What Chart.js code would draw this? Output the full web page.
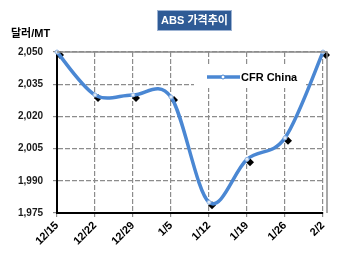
<!DOCTYPE html>
<html>
<head>
<meta charset="utf-8">
<script src="https://cdn.jsdelivr.net/npm/chart.js@4/dist/chart.umd.min.js"></script>
<style>
    html, body { margin: 0; padding: 0; background: #fff; }
    #wrap { width: 350px; height: 261px; position: relative; }
</style>
</head>
<body>
<div id="wrap"><canvas id="chart"></canvas></div>
<script>
// Chart data
const labels = ['12/15', '12/22', '12/29', '1/5', '1/12', '1/19', '1/26', '2/2'];
const cfrChina = [2050, 2030, 2030, 2029, 1980, 2000, 2010, 2050];
const yMin = 1975;
const yMax = 2050;
const yStep = 15;

const FONT = '"Liberation Sans", "Noto Sans CJK KR", Arial, sans-serif';
const LINE_COLOR = '#4A87D3';

// Title box, unit label and in-plot legend
const decorPlugin = {
    id: 'decor',
    beforeDatasetsDraw(chart) {
        const ctx = chart.ctx;
        ctx.save();
        // legend box
        ctx.fillStyle = '#fff';
        ctx.fillRect(194, 66, 112, 22);
        ctx.strokeStyle = LINE_COLOR;
        ctx.lineWidth = 3.5;
        ctx.beginPath();
        ctx.moveTo(207, 77);
        ctx.lineTo(240, 77);
        ctx.stroke();
        ctx.fillStyle = '#fff';
        ctx.lineWidth = 1;
        ctx.beginPath();
        ctx.arc(223, 77, 2, 0, Math.PI * 2);
        ctx.fill();
        ctx.stroke();
        ctx.fillStyle = '#000';
        ctx.font = 'bold 11px ' + FONT;
        ctx.textBaseline = 'middle';
        ctx.fillText('CFR China', 241, 77.5);
        ctx.restore();
    },
    afterDraw(chart) {
        const ctx = chart.ctx;
        ctx.save();
        // title box
        ctx.fillStyle = '#2F5B96';
        ctx.fillRect(157, 10, 75, 21);
        ctx.strokeStyle = '#9DB3D3';
        ctx.lineWidth = 1;
        ctx.strokeRect(157.5, 10.5, 74, 20);
        ctx.fillStyle = '#fff';
        ctx.font = 'bold 11px ' + FONT;
        ctx.textAlign = 'center';
        ctx.textBaseline = 'middle';
        ctx.fillText('ABS 가격추이', 194.5, 21);
        // unit
        ctx.fillStyle = '#000';
        ctx.textAlign = 'left';
        ctx.fillText('달러/MT', 11, 34);
        // right / top border
        const a = chart.chartArea;
        ctx.strokeStyle = '#8c8c8c';
        ctx.lineWidth = 1.5;
        ctx.beginPath();
        ctx.moveTo(a.left, a.top);
        ctx.lineTo(a.right + 4, a.top);
        ctx.lineTo(a.right + 4, a.bottom);
        ctx.stroke();
        ctx.restore();
    }
};

// Excel-like smoothing: uniform Catmull-Rom control points from the scaled points
const smoothPlugin = {
    id: 'excelSmooth',
    beforeDatasetDraw(chart, args) {
        if (args.index !== 0) return;
        const line = args.meta.dataset;
        const pts = args.meta.data;
        line.updateControlPoints(chart.chartArea, 'x');
        for (let i = 0; i < pts.length; i++) {
            const p = pts[i];
            const prev = pts[Math.max(i - 1, 0)];
            const next = pts[Math.min(i + 1, pts.length - 1)];
            const dx = (next.x - prev.x) / 6;
            const dy = (next.y - prev.y) / 6;
            p.cp1x = p.x - dx;
            p.cp1y = p.y - dy;
            p.cp2x = p.x + dx;
            p.cp2y = p.y + dy;
        }
        line._path = undefined;
    }
};

// Diamond markers sit slightly offset from the line
const offsetPlugin = {
    id: 'offsetMarkers',
    beforeDatasetDraw(chart, args) {
        if (args.index === 1) {
            chart.ctx.save();
            chart.ctx.translate(3, 3);
        }
    },
    afterDatasetDraw(chart, args) {
        if (args.index === 1) {
            chart.ctx.restore();
        }
    }
};

new Chart(document.getElementById('chart').getContext('2d'), {
    type: 'line',
    data: {
        labels: labels,
        datasets: [
            {
                label: 'CFR China',
                data: cfrChina,
                borderColor: LINE_COLOR,
                borderWidth: 3.5,
                tension: 0.4,
                clip: false,
                pointRadius: 2,
                pointBackgroundColor: '#dfeaf7',
                pointBorderColor: '#8fb4e3',
                pointBorderWidth: 1,
                order: 1
            },
            {
                label: 'marker',
                data: cfrChina,
                showLine: false,
                clip: false,
                pointStyle: 'rectRot',
                pointRadius: 4,
                pointBackgroundColor: '#000',
                pointBorderColor: '#000',
                pointBorderWidth: 0,
                order: 2
            }
        ]
    },
    options: {
        animation: false,
        responsive: true,
        maintainAspectRatio: false,
        layout: {
            padding: { left: 0, right: 27, top: 52, bottom: 0 }
        },
        plugins: {
            legend: { display: false },
            tooltip: { enabled: false }
        },
        scales: {
            x: {
                offset: false,
                afterFit(scale) { scale.height = 48; },
                grid: {
                    color: '#8c8c8c',
                    lineWidth: 1.2,
                    drawTicks: true,
                    tickLength: 4
                },
                border: { display: true, color: '#000', width: 2, dash: [5, 2] },
                ticks: {
                    color: '#000',
                    font: { family: FONT, size: 11, weight: 'bold' },
                    minRotation: 45,
                    maxRotation: 45,
                    padding: 2
                }
            },
            y: {
                min: yMin,
                max: yMax,
                afterFit(scale) { scale.width = 57; },
                grid: {
                    color: '#8c8c8c',
                    lineWidth: 1.2,
                    drawTicks: true,
                    tickLength: 4
                },
                border: { display: true, color: '#000', width: 2, dash: [5, 2] },
                ticks: {
                    stepSize: yStep,
                    color: '#1a1a1a',
                    padding: 10,
                    font: { family: FONT, size: 10, weight: 'bold' },
                    callback: v => v.toLocaleString('en-US')
                }
            }
        }
    },
    plugins: [decorPlugin, smoothPlugin, offsetPlugin]
});
</script>
</body>
</html>
